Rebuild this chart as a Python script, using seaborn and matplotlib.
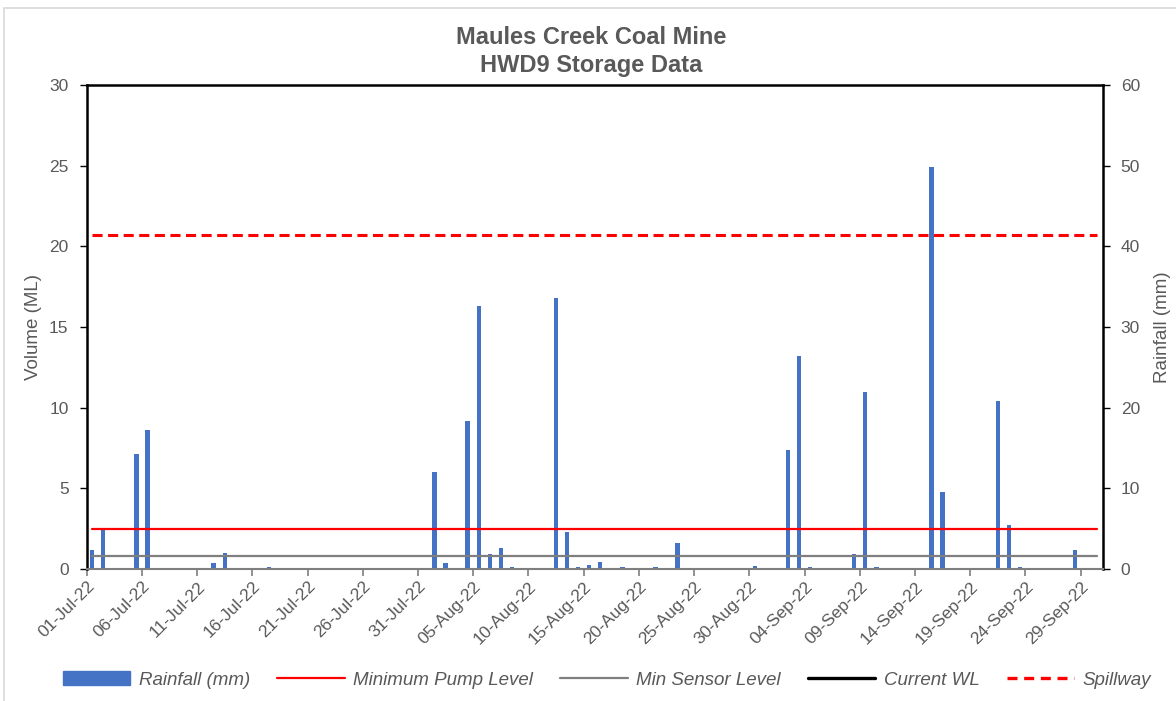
import matplotlib
matplotlib.use("Agg")
import matplotlib.pyplot as plt
import matplotlib.patches as mpatches
from matplotlib.lines import Line2D
import numpy as np
import pandas as pd
import seaborn as sns

# daily rainfall (mm), days without entry are zero
rain_dates = ["2022-07-01", "2022-07-02", "2022-07-05", "2022-07-06", "2022-07-12",
              "2022-07-13", "2022-07-17", "2022-08-01", "2022-08-02", "2022-08-04",
              "2022-08-05", "2022-08-06", "2022-08-07", "2022-08-08", "2022-08-12",
              "2022-08-13", "2022-08-14", "2022-08-15", "2022-08-16", "2022-08-18",
              "2022-08-21", "2022-08-23", "2022-08-30", "2022-08-31", "2022-09-02",
              "2022-09-03", "2022-09-04", "2022-09-08", "2022-09-09", "2022-09-10",
              "2022-09-15", "2022-09-16", "2022-09-21", "2022-09-22", "2022-09-23",
              "2022-09-28"]
rain_mm = [2.4, 4.8, 14.2, 17.2, 0.8,
           2.0, 0.2, 12.0, 0.8, 18.4,
           32.6, 1.8, 2.6, 0.2, 33.6,
           4.6, 0.2, 0.5, 0.9, 0.2,
           0.2, 3.2, 0.4, 0.1, 14.8,
           26.4, 0.2, 1.8, 22.0, 0.2,
           49.8, 9.6, 20.8, 5.4, 0.2,
           2.4]

# storage levels (ML)
min_pump_level = 2.5
min_sensor_level = 0.8
spillway_level = 20.7

tick_labels = ["01-Jul-22", "06-Jul-22", "11-Jul-22", "16-Jul-22", "21-Jul-22",
               "26-Jul-22", "31-Jul-22", "05-Aug-22", "10-Aug-22", "15-Aug-22",
               "20-Aug-22", "25-Aug-22", "30-Aug-22", "04-Sep-22", "09-Sep-22",
               "14-Sep-22", "19-Sep-22", "24-Sep-22", "29-Sep-22"]

days = pd.date_range("2022-07-01", "2022-09-30", freq="D")
rain = pd.Series(rain_mm, index=pd.to_datetime(rain_dates)).reindex(days, fill_value=0.0)
df = pd.DataFrame({"pos": np.arange(len(days)), "rain": rain.values})
df["pump"] = min_pump_level
df["sensor"] = min_sensor_level
df["spill"] = spillway_level

grey = "#595959"
blue = "#4472C4"

sns.set_style("white")
plt.rcParams["font.family"] = ["Liberation Sans", "DejaVu Sans"]

fig = plt.figure(figsize=(11.76, 7.01), dpi=100)
ax = fig.add_axes([0.0737, 0.1883, 0.8640, 0.6904])
ax2 = ax.twinx()

# rainfall bars on the right axis
sns.barplot(data=df, x="pos", y="rain", ax=ax2, color=blue, saturation=1,
            width=0.4, errorbar=None, linewidth=0)

# level lines on the left axis
sns.lineplot(data=df, x="pos", y="pump", ax=ax, color="#FF0000", linewidth=1.6)
sns.lineplot(data=df, x="pos", y="sensor", ax=ax, color="#7F7F7F", linewidth=1.6)
sns.lineplot(data=df, x="pos", y="spill", ax=ax, color="#FF0000", linewidth=2.2,
             dashes=False, linestyle=(0, (3.3, 1.8)))

ax.set_zorder(ax2.get_zorder() + 1)
ax.patch.set_visible(False)

ax.set_xlim(-0.5, len(days) - 0.5)
ax.set_ylim(0, 30)
ax2.set_ylim(0, 60)
ax.set_yticks(range(0, 31, 5))
ax2.set_yticks(range(0, 61, 10))

ticks = np.arange(0, len(days), 5) - 0.5
ax.set_xticks(ticks)
ax.set_xticklabels(tick_labels, rotation=45, ha="right", rotation_mode="anchor",
                   fontsize=12.5, color=grey)
ax2.set_xlabel("")
ax.set_xlabel("")

ax.set_ylabel("Volume (ML)", fontsize=13.5, color=grey, labelpad=5)
ax2.set_ylabel("Rainfall (mm)", fontsize=13.5, color=grey, labelpad=10)

for a in (ax, ax2):
    a.tick_params(axis="y", labelsize=12.5, labelcolor=grey, length=5, width=1,
                  color="black", direction="out", pad=8)
    a.tick_params(axis="x", length=5, width=1.2, color="#7F7F7F", direction="out",
                  pad=2)
    for s in a.spines.values():
        s.set_visible(False)

ax.spines["left"].set_visible(True)
ax.spines["left"].set_color("black")
ax.spines["left"].set_linewidth(1.8)
ax2.spines["right"].set_visible(True)
ax2.spines["right"].set_color("black")
ax2.spines["right"].set_linewidth(1.8)
ax.spines["top"].set_visible(True)
ax.spines["top"].set_color("black")
ax.spines["top"].set_linewidth(1.8)
ax.spines["bottom"].set_visible(True)
ax.spines["bottom"].set_color("#7F7F7F")
ax.spines["bottom"].set_linewidth(1.5)
ax.tick_params(axis="y", left=True, right=False)
ax2.tick_params(axis="y", right=True, left=False)
ax.tick_params(axis="x", bottom=True)
ax2.tick_params(axis="x", bottom=False, labelbottom=False)

fig.text(0.503, 0.946, "Maules Creek Coal Mine", ha="center", va="center",
         fontsize=17, fontweight="bold", color=grey)
fig.text(0.503, 0.907, "HWD9 Storage Data", ha="center", va="center",
         fontsize=17, fontweight="bold", color=grey)

# chart frame
fig.patches.append(mpatches.Rectangle((0.003, -0.05), 1.2, 1.039, transform=fig.transFigure,
                                      fill=False, edgecolor="#D9D9D9", linewidth=1.2))

handles = [mpatches.Patch(color=blue),
           Line2D([], [], color="#FF0000", linewidth=1.6),
           Line2D([], [], color="#7F7F7F", linewidth=1.6),
           Line2D([], [], color="black", linewidth=2.4),
           Line2D([], [], color="#FF0000", linewidth=2.4, linestyle=(0, (3.0, 2.0)))]
labels = ["Rainfall (mm)", "Minimum Pump Level", "Min Sensor Level", "Current WL", "Spillway"]
leg = fig.legend(handles, labels, loc="center", bbox_to_anchor=(0.516, 0.03), ncol=5,
                 frameon=False, handlelength=3.6, columnspacing=1.45, handletextpad=0.45,
                 handleheight=0.8, prop={"style": "italic", "size": 13.5})
for t in leg.get_texts():
    t.set_color(grey)

fig.savefig("out.png", dpi=100)
